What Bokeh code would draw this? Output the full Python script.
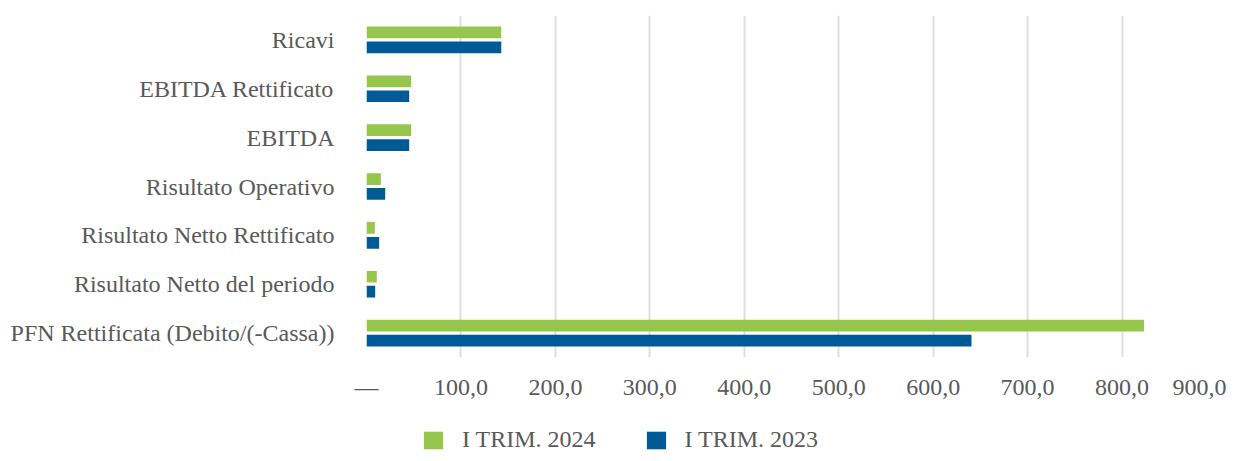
from bokeh.plotting import figure
from bokeh.layouts import column
from bokeh.models import ColumnDataSource, FactorRange, Range1d, FixedTicker, Legend, LegendItem
from bokeh.transform import dodge
from bokeh.embed import file_html
from bokeh.resources import INLINE

categories = ["Ricavi", "EBITDA Rettificato", "EBITDA", "Risultato Operativo",
              "Risultato Netto Rettificato", "Risultato Netto del periodo",
              "PFN Rettificata (Debito/(-Cassa))"]
values_2024 = [142.7, 47.3, 47.3, 15.2, 8.8, 10.9, 823.3]
values_2023 = [142.7, 45.2, 45.2, 19.8, 13.4, 9.2, 640.6]
series_names = ["I TRIM. 2024", "I TRIM. 2023"]
tick_values = [0, 100, 200, 300, 400, 500, 600, 700, 800, 900]
tick_labels = ["—", "100,0", "200,0", "300,0", "400,0", "500,0", "600,0", "700,0", "800,0", "900,0"]

GREEN = "#97c64d"
BLUE = "#005a96"
TXT = "#595959"
FONT = "Liberation Serif"

src = ColumnDataSource(dict(cat=categories, v24=values_2024, v23=values_2023))

p = figure(width=1226, height=412, output_backend="svg", toolbar_location=None,
           y_range=FactorRange(*reversed(categories)), x_range=Range1d(0, 900),
           min_border_top=15, min_border_right=10, min_border_left=366,
           min_border_bottom=55)
p.outline_line_color = None

p.hbar(y=dodge("cat", 0.153, range=p.y_range), right="v24", left=0, height=0.24,
       source=src, color=GREEN, line_color=None)
p.hbar(y=dodge("cat", -0.153, range=p.y_range), right="v23", left=0, height=0.24,
       source=src, color=BLUE, line_color=None)

p.xaxis.ticker = FixedTicker(ticks=tick_values)
p.xaxis.major_label_overrides = {v: l for v, l in zip(tick_values, tick_labels)}
for ax in (p.xaxis, p.yaxis):
    ax.axis_line_color = None
    ax.major_tick_line_color = None
    ax.minor_tick_line_color = None
    ax.major_label_text_font = FONT
    ax.major_label_text_font_size = "24px"
    ax.major_label_text_color = TXT
p.xaxis.major_label_standoff = 10
p.yaxis.major_label_standoff = 26

p.ygrid.grid_line_color = None
p.xgrid.grid_line_color = "#dedede"
p.xgrid.grid_line_width = 2

# legend strip below the chart (same data, drawn far outside the strip's visible range)
p2 = figure(width=1226, height=41, output_backend="svg", toolbar_location=None,
            x_range=Range1d(-2000, -1000), y_range=Range1d(0, 1), min_border=0)
p2.outline_line_color = None
p2.axis.visible = False
p2.grid.visible = False
d24 = p2.hbar(y=-50, right="v24", left=0, height=0.1, source=src, color=GREEN, line_color=None)
d23 = p2.hbar(y=-50, right="v23", left=0, height=0.1, source=src, color=BLUE, line_color=None)
legend = Legend(items=[LegendItem(label=series_names[0], renderers=[d24]),
                       LegendItem(label=series_names[1], renderers=[d23])],
                orientation="horizontal", location=(55, 0),
                glyph_width=24, glyph_height=22, label_standoff=17, spacing=48,
                label_text_font=FONT, label_text_font_size="24px", label_text_color=TXT,
                border_line_color=None, background_fill_alpha=0, margin=0, padding=0)
p2.add_layout(legend, "center")

open("out.html", "w").write(file_html(column(p, p2), INLINE))
